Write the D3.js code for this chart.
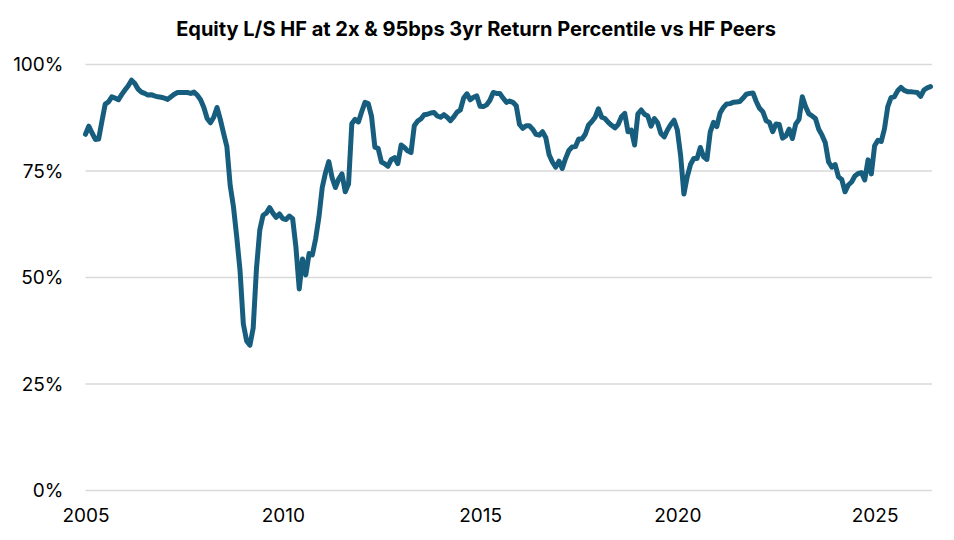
<!DOCTYPE html>
<html>
<head>
<meta charset="utf-8">
<script src="https://cdn.jsdelivr.net/npm/d3@7"></script>
<style>
  body { margin: 0; background: #fff; }
  text { font-family: Inter, "Noto Sans", sans-serif; fill: #000; }
  .grid line { stroke: #d9d9d9; stroke-width: 1.5; }
  .series { fill: none; stroke: #175e7e; stroke-width: 5; stroke-linejoin: round; stroke-linecap: round; }
</style>
</head>
<body>
<div class="container"></div>
<script>
// monthly 3yr return percentile, Jan 2005 onwards
var startYear = 2005;
var pctRank = [
  83.5, 85.4, 83.8, 82.3, 82.4, 86.6, 90.6, 91.1, 92.3, 92.0, 91.6, 92.8, // 2005
  93.9, 94.9, 96.2, 95.4, 94.1, 93.4, 93.1, 92.7, 92.8, 92.5, 92.3, 92.2, // 2006
  92.0, 91.7, 92.3, 92.9, 93.3, 93.3, 93.3, 93.3, 93.1, 93.4, 92.7, 91.6, // 2007
  89.8, 87.2, 86.2, 87.5, 89.8, 87.0, 83.7, 80.6, 71.5, 66.5, 59.4, 51.5, // 2008
  39.0, 35.0, 34.0, 38.0, 52.0, 61.0, 64.5, 65.0, 66.3, 65.0, 64.0, 64.8, // 2009
  63.7, 63.5, 64.3, 63.7, 57.0, 47.2, 54.2, 50.5, 55.5, 55.2, 59.0, 64.1, // 2010
  71.0, 74.5, 77.1, 73.3, 71.0, 73.0, 74.2, 70.0, 71.8, 86.0, 87.0, 86.4, // 2011
  88.8, 91.0, 90.7, 87.7, 80.5, 80.2, 77.0, 76.6, 76.0, 77.6, 78.0, 76.6, // 2012
  81.0, 80.4, 79.6, 79.2, 85.5, 86.6, 87.1, 88.1, 88.2, 88.5, 88.6, 87.8, // 2013
  87.5, 88.1, 87.5, 86.7, 87.6, 88.7, 89.2, 92.0, 93.0, 91.6, 92.2, 92.5, // 2014
  90.1, 90.0, 90.4, 91.5, 93.3, 93.1, 93.1, 92.0, 91.0, 91.3, 91.0, 90.2, // 2015
  85.8, 84.9, 85.5, 85.5, 84.7, 83.5, 83.3, 84.1, 82.7, 78.7, 77.0, 75.8, // 2016
  77.2, 75.5, 77.8, 79.7, 80.5, 80.6, 82.4, 82.4, 83.5, 85.7, 86.5, 87.5, // 2017
  89.5, 87.5, 87.2, 86.3, 85.6, 85.0, 85.8, 87.6, 88.4, 84.1, 84.5, 81.0, // 2018
  88.3, 89.2, 88.2, 87.8, 85.4, 87.2, 86.2, 83.7, 82.9, 84.5, 85.8, 86.8, // 2019
  84.5, 78.5, 69.5, 73.5, 76.4, 77.8, 77.8, 80.4, 78.2, 77.6, 84.0, 86.3, // 2020
  85.3, 88.5, 89.8, 90.6, 90.7, 91.0, 91.1, 91.2, 92.0, 92.9, 93.1, 93.2, // 2021
  91.2, 89.6, 88.8, 86.7, 86.3, 84.1, 85.9, 85.8, 82.6, 83.1, 84.7, 82.5, // 2022
  85.9, 87.0, 92.3, 90.0, 88.3, 87.8, 87.2, 84.7, 83.3, 81.5, 77.0, 75.8, // 2023
  76.4, 73.5, 72.9, 70.0, 71.6, 72.3, 73.7, 74.3, 74.5, 72.8, 77.5, 74.2, // 2024
  80.8, 82.1, 81.8, 84.8, 90.0, 92.1, 92.3, 93.7, 94.5, 93.8, 93.5, 93.5, // 2025
  93.4, 93.3, 92.4, 93.9, 94.4, 94.7                                      // 2026
];

var yearTicks = [2005, 2010, 2015, 2020, 2025];
var pctTicks = [0, 25, 50, 75, 100];
var title = "Equity L/S HF at 2x & 95bps 3yr Return Percentile vs HF Peers";

const WIDTH = 954;
const HEIGHT = 540;
const LEFT = 85.5, RIGHT = 932, TOP = 64, BOTTOM = 490;

var svg = d3.select('.container').append('svg')
  .attr('width', WIDTH)
  .attr('height', HEIGHT);

var series = pctRank.map(function(v, i) {
  return { t: startYear + i / 12, v: v };
});

var xScale = d3.scaleLinear()
  .domain([startYear, startYear + 257.45 / 12])
  .range([LEFT, RIGHT]);

var yScale = d3.scaleLinear()
  .domain([0, 100])
  .range([BOTTOM, TOP]);

svg.append('text')
  .attr('x', 476)
  .attr('y', 36)
  .attr('text-anchor', 'middle')
  .style('font-size', '20px')
  .style('font-weight', 700)
  .text(title);

// horizontal grid + percent labels
var yAxis = d3.axisLeft(yScale)
  .tickValues(pctTicks)
  .tickSize(-(RIGHT - LEFT))
  .tickPadding(22)
  .tickFormat(function(d) { return d + '%'; });

svg.append('g')
  .attr('class', 'grid')
  .attr('transform', 'translate(' + LEFT + ',0)')
  .call(yAxis)
  .call(function(g) {
    g.select('.domain').remove();
    g.selectAll('text').style('font-size', '19px').attr('dy', '0.36em');
  });

var xAxis = d3.axisBottom(xScale)
  .tickValues(yearTicks)
  .tickSize(0)
  .tickPadding(19)
  .tickFormat(d3.format('d'));

svg.append('g')
  .attr('transform', 'translate(0,' + BOTTOM + ')')
  .call(xAxis)
  .call(function(g) {
    g.select('.domain').remove();
    g.selectAll('text').style('font-size', '19px');
  });

var line = d3.line()
  .x(function(d) { return xScale(d.t); })
  .y(function(d) { return yScale(d.v); })
  .curve(d3.curveLinear);

svg.append('path')
  .datum(series)
  .attr('class', 'series')
  .attr('d', line);
</script>
</body>
</html>
